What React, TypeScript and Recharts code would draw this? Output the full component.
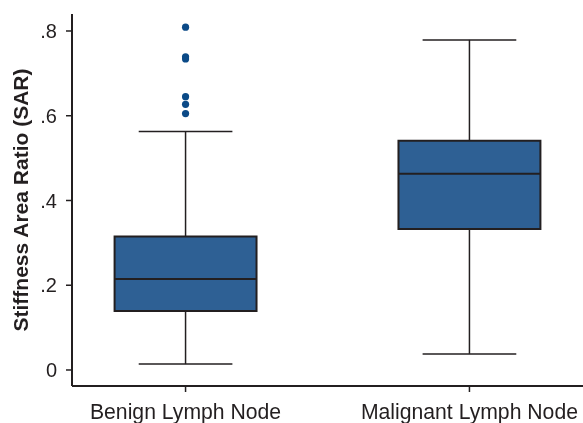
import React from "react";
import {
  ScatterChart,
  Scatter,
  XAxis,
  YAxis,
  ReferenceArea,
  ReferenceLine,
} from "recharts";

// box plot stats
const categories = ["Benign Lymph Node", "Malignant Lymph Node"];
const positions = [1, 2];
const lowWhisker = [0.014, 0.038];
const q1 = [0.139, 0.333];
const median = [0.215, 0.463];
const q3 = [0.315, 0.541];
const highWhisker = [0.563, 0.779];
const benignOutliers = [0.809, 0.739, 0.734, 0.645, 0.627, 0.605];
const yTicks = [0, 0.2, 0.4, 0.6, 0.8];

const BOX_FILL = "#2e6094";
const DOT_FILL = "#0b4a87";
const INK = "#231f20";
const FONT = "'Liberation Sans', Arial, Helvetica, sans-serif";

const BOX_HALF = 0.25;
const CAP_HALF = 0.165;

const outlierData = benignOutliers.map((v) => ({ x: positions[0], y: v }));

const fmtY = (v: number) => (v === 0 ? "0" : v.toFixed(1).replace(/^0/, ""));
const fmtX = (v: number) => categories[positions.indexOf(v)] ?? "";

function YLabel(props: any) {
  const vb = props.viewBox || {};
  const x = 20;
  const y = (vb.y ?? 0) + (vb.height ?? 0) / 2;
  return (
    <text
      x={x}
      y={y}
      transform={`rotate(-90, ${x}, ${y})`}
      textAnchor="middle"
      dominantBaseline="central"
      fontFamily={FONT}
      fontSize={21}
      fontWeight="bold"
      fill={INK}
    >
      Stiffness Area Ratio (SAR)
    </text>
  );
}

export default function App() {
  // fixed so the page never scrolls (a scrollbar would eat the right edge)
  return (
    <div style={{ position: "fixed", left: 0, top: 0 }}>
      <ScatterChart
        width={583}
        height={423}
        margin={{ top: 14, right: 0, bottom: 0, left: 8 }}
      >
        <XAxis
          dataKey="x"
          type="number"
          domain={[0.6, 2.4]}
          ticks={positions}
          tickFormatter={fmtX}
          height={37}
          tickSize={6}
          tickMargin={12}
          axisLine={{ stroke: INK, strokeWidth: 2 }}
          tickLine={{ stroke: INK, strokeWidth: 1.5 }}
          tick={{ fill: INK, fontSize: 21.2, fontFamily: FONT }}
          allowDataOverflow
        />
        <YAxis
          dataKey="y"
          type="number"
          domain={[-0.0378, 0.8401]}
          ticks={yTicks}
          tickFormatter={fmtY}
          width={64}
          tickSize={6}
          tickMargin={9}
          axisLine={{ stroke: INK, strokeWidth: 2 }}
          tickLine={{ stroke: INK, strokeWidth: 1.5 }}
          tick={{ fill: INK, fontSize: 20, fontFamily: FONT }}
          allowDataOverflow
          label={<YLabel />}
        />
        {positions.map((c, i) => (
          <ReferenceLine
            key={`wl-${i}`}
            segment={[
              { x: c, y: lowWhisker[i] },
              { x: c, y: q1[i] },
            ]}
            stroke={INK}
            strokeWidth={1.5}
          />
        ))}
        {positions.map((c, i) => (
          <ReferenceLine
            key={`wh-${i}`}
            segment={[
              { x: c, y: q3[i] },
              { x: c, y: highWhisker[i] },
            ]}
            stroke={INK}
            strokeWidth={1.5}
          />
        ))}
        {positions.map((c, i) => (
          <ReferenceLine
            key={`cl-${i}`}
            segment={[
              { x: c - CAP_HALF, y: lowWhisker[i] },
              { x: c + CAP_HALF, y: lowWhisker[i] },
            ]}
            stroke={INK}
            strokeWidth={1.5}
          />
        ))}
        {positions.map((c, i) => (
          <ReferenceLine
            key={`ch-${i}`}
            segment={[
              { x: c - CAP_HALF, y: highWhisker[i] },
              { x: c + CAP_HALF, y: highWhisker[i] },
            ]}
            stroke={INK}
            strokeWidth={1.5}
          />
        ))}
        {positions.map((c, i) => (
          <ReferenceArea
            key={`box-${i}`}
            x1={c - BOX_HALF}
            x2={c + BOX_HALF}
            y1={q1[i]}
            y2={q3[i]}
            fill={BOX_FILL}
            fillOpacity={1}
            stroke={INK}
            strokeWidth={2}
          />
        ))}
        {positions.map((c, i) => (
          <ReferenceLine
            key={`med-${i}`}
            segment={[
              { x: c - BOX_HALF, y: median[i] },
              { x: c + BOX_HALF, y: median[i] },
            ]}
            stroke={INK}
            strokeWidth={2}
          />
        ))}
        <Scatter
          data={outlierData}
          isAnimationActive={false}
          shape={(p: any) => <circle cx={p.cx} cy={p.cy} r={3.6} fill={DOT_FILL} />}
        />
      </ScatterChart>
    </div>
  );
}
